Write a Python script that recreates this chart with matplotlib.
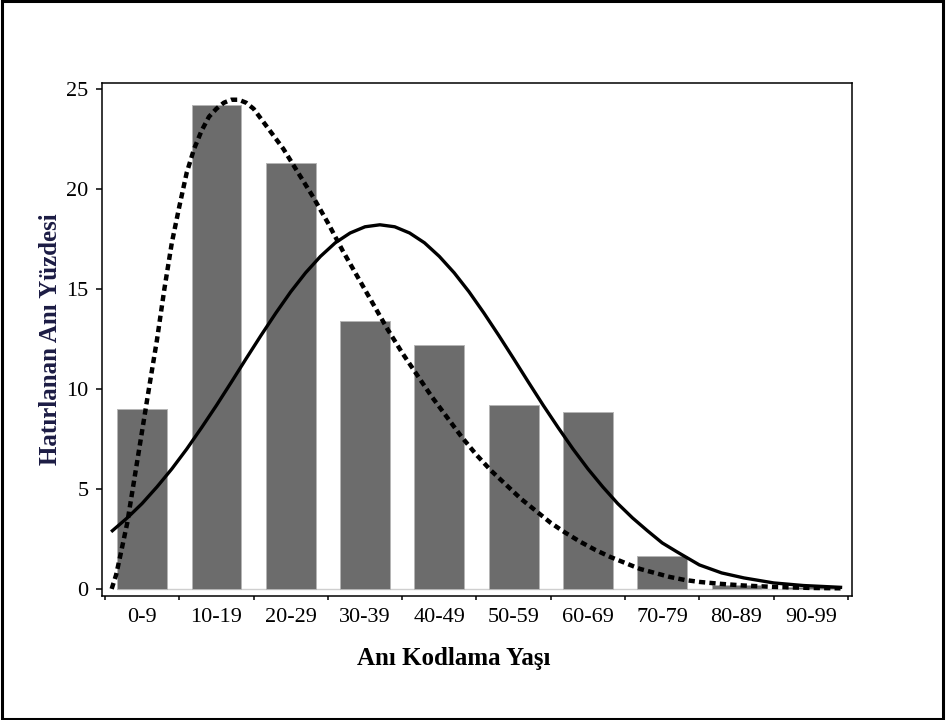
import matplotlib
import matplotlib.pyplot as plt
from matplotlib.patches import Rectangle

params = {
    "font.family": "serif",
    "font.serif": ["Liberation Serif", "DejaVu Serif"],
    "font.size": 16,
    "xtick.labelsize": 16,
    "ytick.labelsize": 16,
    "axes.linewidth": 1.1,
}
matplotlib.rcParams.update(params)

# age groups (10-year bins) and recalled memory share per bin
age_groups = ["0-9", "10-19", "20-29", "30-39", "40-49",
              "50-59", "60-69", "70-79", "80-89", "90-99"]
group_mid = [5, 15, 25, 35, 45, 55, 65, 75, 85, 95]
group_edges = [0, 10, 20, 30, 40, 50, 60, 70, 80, 90, 100]
percent = [9.0, 24.2, 21.3, 13.4, 12.2, 9.2, 8.85, 1.65, 0.2, 0.1]

# solid (normal) curve
normal_age = [1, 3, 5, 7, 9, 11, 13, 15, 17, 19, 21, 23, 25, 27, 29, 31, 33, 35,
              37, 39, 41, 43, 45, 47, 49, 51, 53, 55, 57, 59, 61, 63, 65, 67, 69,
              71, 73, 75, 77, 80, 83, 86, 90, 94, 99]
normal_pct = [2.91, 3.55, 4.27, 5.10, 6.00, 6.99, 8.06, 9.17, 10.33, 11.51, 12.67,
              13.79, 14.85, 15.80, 16.62, 17.30, 17.79, 18.10, 18.2, 18.10, 17.79,
              17.30, 16.62, 15.80, 14.85, 13.79, 12.67, 11.51, 10.33, 9.17, 8.06,
              6.99, 6.00, 5.10, 4.27, 3.55, 2.91, 2.30, 1.85, 1.2, 0.8, 0.55, 0.3,
              0.17, 0.08]

# dashed (skewed) curve
skewed_age = [0.9, 1.5, 2, 3, 4, 5, 6, 7, 8, 9, 10, 11, 12, 13, 14, 15, 16, 17, 18,
              19, 20, 22, 24, 26, 28, 30, 32, 34, 36, 38, 40, 42, 44, 46, 48, 50,
              52, 54, 56, 58, 60, 62, 64, 66, 68, 70, 72, 74, 76, 78, 80, 83, 86,
              90, 95, 99]
skewed_pct = [0.0, 0.7, 1.55, 3.3, 5.6, 7.9, 10.2, 12.45, 15.0, 17.3, 19.1, 20.8,
              22.0, 22.9, 23.6, 24.0, 24.3, 24.45, 24.45, 24.3, 24.0, 23.0, 22.0,
              20.8, 19.6, 18.3, 16.9, 15.6, 14.3, 13.0, 11.8, 10.7, 9.6, 8.6, 7.6,
              6.7, 5.9, 5.2, 4.5, 3.9, 3.3, 2.8, 2.35, 1.95, 1.6, 1.3, 1.0, 0.8, 0.6,
              0.45, 0.35, 0.25, 0.17, 0.1, 0.05, 0.03]

bar_width = 6.7

fig = plt.figure(figsize=(9.46, 7.2), dpi=100)
ax = fig.add_axes([0.1075, 0.1726, 0.7928, 0.7125])

ax.hlines(0, group_mid[0] - bar_width / 2, group_mid[-1] + bar_width / 2,
          color="#cfcfcf", lw=1, zorder=1)
ax.bar(group_mid, percent, width=bar_width, color="#6c6c6c",
       edgecolor="#b5b5b5", linewidth=0.7, zorder=2)
ax.plot(skewed_age, skewed_pct, color="black", lw=3.2,
        linestyle=(0, (1.4, 0.95)), zorder=3)
ax.plot(normal_age, normal_pct, color="black", lw=2.4, zorder=3)

ax.set_xlim(-0.44, 100.5)
ax.set_ylim(-0.34, 25.3)

# tick marks sit on the bin edges, labels in the bin centres
ax.set_xticks(group_edges)
ax.set_xticklabels([])
ax.set_xticks(group_mid, minor=True)
ax.set_xticklabels(age_groups, minor=True)
ax.tick_params(axis="x", which="major", length=3, width=1.1, direction="out")
ax.tick_params(axis="x", which="minor", length=0, pad=9)
ax.set_yticks([0, 5, 10, 15, 20, 25])
ax.tick_params(axis="y", length=4.5, width=1.1, pad=5)

ax.set_xlabel("Anı Kodlama Yaşı", fontsize=18, fontweight="bold", labelpad=16)
ax.xaxis.set_label_coords(0.47, -0.1)
ax.xaxis.label.set_va("top")
ax.set_ylabel("Hatırlanan Anı Yüzdesi", fontsize=18, fontweight="bold",
              color="#1c1c44", labelpad=3)

# frame around the whole picture
fig.add_artist(Rectangle((0.0016, 0.002), 0.9955, 0.996, transform=fig.transFigure,
                         fill=False, lw=2.2, ec="black"))

fig.savefig("out.png", dpi=100)
